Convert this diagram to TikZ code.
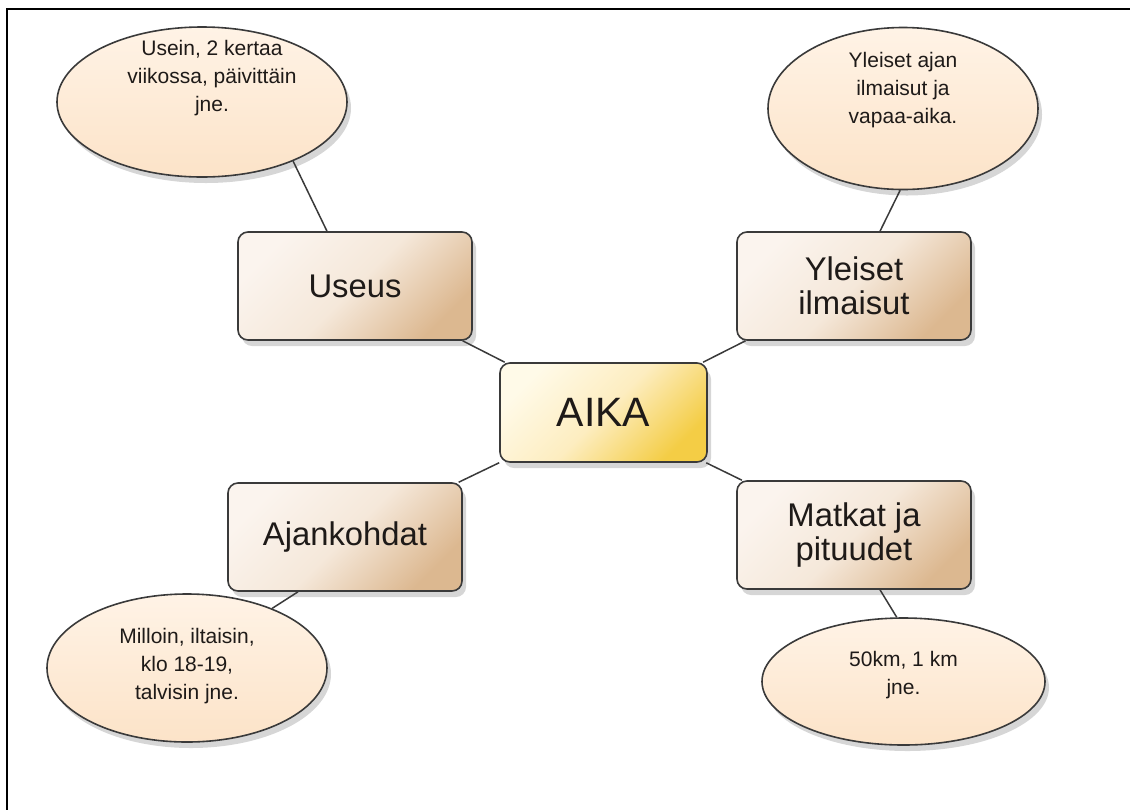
\documentclass[tikz,border=0pt]{standalone}
\usepackage{fontspec}
\setmainfont{Liberation Sans}
\usetikzlibrary{shapes.geometric,shadows,calc}
\definecolor{boxA}{HTML}{FBF4EE}
\definecolor{boxM}{HTML}{F5E8DA}
\definecolor{boxB}{HTML}{DCB890}
\definecolor{cenA}{HTML}{FFFAE8}
\definecolor{cenM}{HTML}{FDEDC0}
\definecolor{cenB}{HTML}{F4CD45}
\definecolor{ellA}{HTML}{FFF3E6}
\definecolor{ellB}{HTML}{FCE3C8}
\definecolor{edge}{HTML}{3A3A3A}
\definecolor{txt}{HTML}{1E1A18}
\tikzset{
  shade box/.style={drop shadow={shadow xshift=2pt, shadow yshift=-3pt, opacity=0.16, fill=black}},
  topicbox/.style={rectangle, rounded corners=5pt, draw=edge, line width=0.8pt,
    left color=boxA, right color=boxB, middle color=boxM, shading angle=45,
    minimum width=117pt, minimum height=54pt, align=center, text=txt,
    font=\fontsize{16.4}{17}\selectfont, shade box},
  centerbox/.style={rectangle, rounded corners=5pt, draw=edge, line width=0.8pt,
    left color=cenA, right color=cenB, middle color=cenM, shading angle=45,
    minimum width=103.5pt, minimum height=49.5pt, align=center, text=txt,
    font=\fontsize{20.5}{22}\selectfont, shade box},
  bubble/.style={ellipse, draw=edge, line width=0.8pt, top color=ellA, bottom color=ellB,
    inner sep=0pt, shade box},
  bubbletext/.style={align=center, text=txt, font=\fontsize{10.5}{14}\selectfont, inner sep=0pt},
  link/.style={draw=edge, line width=0.75pt}
}
\begin{document}
\begin{tikzpicture}[x=0.5pt,y=-0.5pt]
\useasboundingbox (0,0) rectangle (1130,810);
\fill[white] (0,0) rectangle (1130,810);
\draw[line width=1pt, black] (1130,9) -- (7,9) -- (7,810);

\node[centerbox] (aika) at (603.5,412.5) {AIKA};
\node[topicbox] (useus) at (355,286) {Useus};
\node[topicbox] (yleiset) at (854,286) {Yleiset\\ilmaisut};
\node[topicbox] (ajan) at (345,537) {Ajankohdat};
\node[topicbox] (matkat) at (854,535) {Matkat ja\\pituudet};

\node[bubble, minimum width=145pt, minimum height=75pt] (e1) at (202,102) {};
\node[bubble, minimum width=135pt, minimum height=81pt] (e2) at (903,108.5) {};
\node[bubble, minimum width=140pt, minimum height=74pt] (e3) at (187,668) {};
\node[bubble, minimum width=141.5pt, minimum height=63.5pt] (e4) at (903.5,681.5) {};

\node[bubbletext] (t1) at (212,78) {Usein, 2 kertaa\\viikossa, päivittäin\\jne.};
\node[bubbletext] (t2) at (903,90) {Yleiset ajan\\ilmaisut ja\\vapaa-aika.};
\node[bubbletext] (t3) at (187,666) {Milloin, iltaisin,\\klo 18-19,\\talvisin jne.};
\node[bubbletext] (t4) at (903.5,675) {50km, 1 km\\jne.};

\draw[link] (useus) -- (aika);
\draw[link] (yleiset) -- (aika);
\draw[link] (ajan) -- (aika);
\draw[link] (matkat) -- (aika);

\coordinate (u1) at ($(useus.north)+(-28,0)$);
\coordinate (y1) at ($(yleiset.north)+(26,0)$);
\coordinate (a1) at ($(ajan.south)+(-47,0)$);
\coordinate (m1) at ($(matkat.south)+(26,0)$);
\draw[link] (u1) -- (e1.-33);
\draw[link] (y1) -- (e2.-92);
\draw[link] (a1) -- (e3.35);
\draw[link] (m1) -- (e4.96);
\end{tikzpicture}
\end{document}
